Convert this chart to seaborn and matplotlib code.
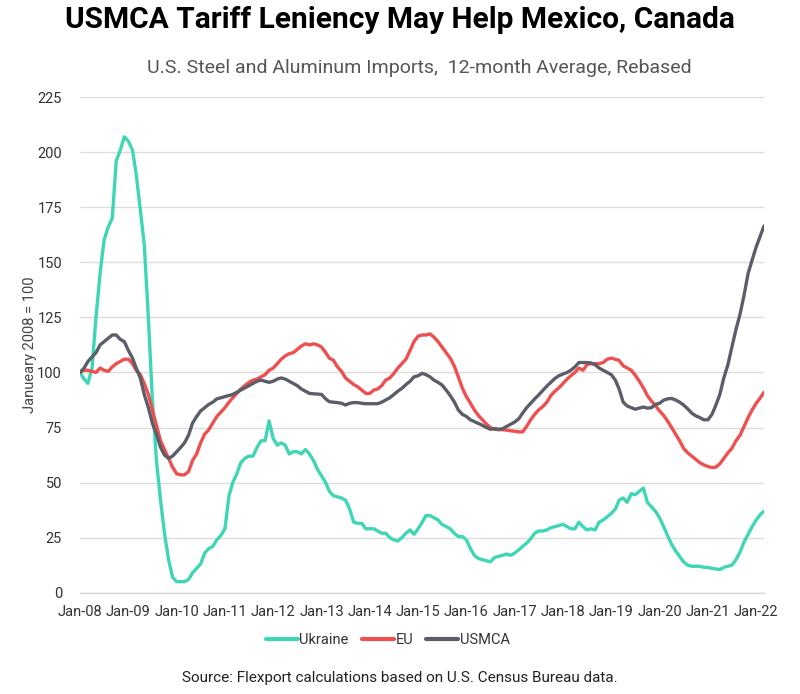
import matplotlib
matplotlib.use("Agg")
import matplotlib.pyplot as plt
import matplotlib.dates as mdates
import numpy as np
import pandas as pd
import seaborn as sns

# monthly values, Jan-08 .. Mar-22
ukraine = [
    100, 97, 95, 102, 125, 145, 160, 166, 170, 196, 201, 207,      # 2008
    205, 201, 190, 174, 158, 125, 88, 60, 42, 27, 15, 7,           # 2009
    5, 5, 5, 6, 9, 11, 13, 18, 20, 21, 24, 26,                     # 2010
    29, 44, 50, 54, 59, 61, 62, 62, 66, 69, 69, 78,                # 2011
    70, 67, 68, 67, 63, 64, 64, 63, 65, 63, 60, 56,                # 2012
    53, 50, 46, 44, 43.5, 43, 42, 38, 32, 31.5, 31.5, 29,          # 2013
    29, 29, 28, 27, 27, 25, 24, 23.5, 25, 27, 28.5, 26.5,          # 2014
    29, 32, 35, 35, 34, 33, 31, 30, 29, 27, 25.5, 25.5,            # 2015
    24, 20, 17, 15.5, 15, 14.5, 14, 16, 16.5, 17, 17.5, 17,        # 2016
    18, 19.5, 21, 22.5, 24.5, 27, 28, 28, 28.5, 29.5, 30, 30.5,    # 2017
    31, 30, 29, 29, 32, 30, 28.5, 29, 28.5, 32, 33, 34.5,          # 2018
    36, 38, 42, 43, 41, 45, 44.5, 46, 47.5, 41, 39, 37,            # 2019
    34, 30, 26, 22, 19, 16.5, 14, 12.5, 12, 12, 12, 11.5,          # 2020
    11.5, 11, 10.8, 10.5, 11.5, 12, 12.5, 15, 18.5, 23, 26.5, 30,  # 2021
    33, 35.5, 37,                                                  # 2022
]
eu = [
    100, 101, 101, 100.5, 100, 102, 101, 100.5, 102.5, 104, 105, 106,
    106, 104, 101, 99, 95, 90, 83, 76, 69, 65, 61, 57,
    54, 53.5, 53.5, 55, 60, 63, 68, 72, 74, 77, 80, 82,
    84, 86.5, 88.5, 90.5, 92.5, 94, 95.5, 96.5, 97, 98, 99, 101,
    102, 104, 106, 107.5, 108.5, 109, 110.5, 112, 113, 112.5, 113, 112.5,
    111.5, 109, 106.5, 105.5, 102.5, 100.5, 97.5, 96, 94.5, 93.5, 92, 90.5,
    90.5, 92, 92.5, 94, 96.5, 97.5, 99.5, 102, 104, 106, 110, 114,
    116.5, 117, 117, 117.5, 116, 114, 111.5, 109, 106.5, 103, 98, 93,
    89, 86, 83, 80.5, 78.5, 76.5, 75, 74.2, 74, 74, 73.8, 73.5,
    73.3, 73, 73, 75.5, 78.5, 81, 83, 84.5, 86.5, 89.5, 91.5, 93,
    95, 97, 98.5, 100, 102, 101, 103.5, 104, 104, 104, 104.5, 106,
    106.5, 106, 105.5, 103, 102, 101, 98.8, 96, 93, 89.5, 87, 85,
    82.5, 80.5, 78, 75, 72, 69, 65.5, 63.5, 62, 60.5, 59, 58,
    57.3, 56.8, 57, 58.5, 61, 63.5, 65.5, 69, 71.5, 75.5, 79.5, 83,
    86, 88.5, 91,
]
usmca = [
    100, 102, 105, 107, 109, 112.5, 114, 115.5, 117, 117, 115, 114,
    110, 106.5, 102, 97.5, 90, 84, 77, 72, 66, 62.5, 61, 62,
    64, 66, 68, 71.5, 77, 80, 82.5, 84, 85.5, 86.5, 88, 88.5,
    89, 89.5, 90, 91, 92, 93, 94, 95, 96, 96.5, 96, 95.5,
    96, 97, 97.5, 97, 96, 95, 94, 92.5, 91.5, 90.5, 90.3, 90.2,
    90, 88, 86.7, 86.5, 86.3, 86, 85.2, 86, 86.3, 86.3, 86, 85.8,
    85.8, 85.8, 85.8, 86.5, 87.5, 88.5, 90, 91.5, 92.8, 94.5, 96, 98,
    98.5, 99.6, 99, 98, 96.5, 95.5, 94.3, 92, 89.5, 86.7, 83, 81,
    80, 78.5, 77.7, 76.8, 76, 75, 74.2, 74.5, 74.2, 74.4, 75.5, 76.5,
    77.5, 79, 81.5, 84, 86, 88, 89.8, 91.8, 93.8, 95.5, 97.3, 98.5,
    99.3, 100, 101, 102.5, 104.5, 104.5, 104.5, 104.3, 103.5, 102, 101, 100,
    99, 96.5, 92.5, 86.5, 84.8, 84, 83.3, 83.8, 84.3, 83.8, 84, 85.5,
    86, 87.4, 88, 88.2, 87.5, 86.5, 85.2, 83.5, 81.5, 80.3, 79.5, 78.5,
    78.5, 81, 85, 90, 97.5, 103.5, 111.5, 119.5, 126.5, 135, 145, 151,
    157, 162, 166.5,
]
series_names = ["Ukraine", "EU", "USMCA"]
colors = ["#3fd6b6", "#ee4f4f", "#5b5e68"]

dates = pd.date_range("2008-01-01", periods=len(usmca), freq="MS")
df = pd.concat(
    [
        pd.DataFrame({"date": dates, "value": vals, "series": name})
        for name, vals in zip(series_names, [ukraine, eu, usmca])
    ]
)

sns.set_style("white")
plt.rcParams["font.family"] = ["Roboto", "DejaVu Sans"]

fig = plt.figure(figsize=(8, 6.94), dpi=100)
ax = fig.add_axes([0.1, 0.146, 0.855, 0.714])

sns.lineplot(
    data=df,
    x="date",
    y="value",
    hue="series",
    hue_order=series_names,
    palette=colors,
    linewidth=2.4,
    ax=ax,
)

ax.set_xlim(dates[0], dates[-1])
ax.set_ylim(0, 225)
ax.set_yticks(np.arange(0, 226, 25))
ax.yaxis.grid(True, color="#dcdcdc", linewidth=1)
ax.xaxis.grid(False)
ax.set_axisbelow(True)

ax.xaxis.set_major_locator(mdates.YearLocator())
ax.xaxis.set_major_formatter(mdates.DateFormatter("%b-%y"))

for s in ["top", "right", "left"]:
    ax.spines[s].set_visible(False)
ax.spines["bottom"].set_color("#d6d6d6")
ax.spines["bottom"].set_linewidth(1)

ax.tick_params(axis="x", colors="#d6d6d6", length=5, width=1, pad=4,
               labelcolor="#333333", labelsize=10.5)
ax.tick_params(axis="y", length=0, pad=13, labelcolor="#333333", labelsize=10.5)

ax.set_xlabel("")
ax.set_ylabel("Janueary 2008 = 100", fontsize=10.5, color="#444444", labelpad=0)

leg = ax.legend(
    loc="upper center",
    bbox_to_anchor=(0.45, -0.055),
    ncol=3,
    frameon=False,
    fontsize=10.5,
    handlelength=2.2,
    handletextpad=0.1,
    columnspacing=0.9,
)
for line in leg.get_lines():
    line.set_linewidth(3)
for t in leg.get_texts():
    t.set_color("#333333")

fig.text(0.5, 0.971, "USMCA Tariff Leniency May Help Mexico, Canada",
         ha="center", va="center", fontsize=21.5, fontweight="bold", color="#000000")
fig.text(0.524, 0.902, "U.S. Steel and Aluminum Imports,  12-month Average, Rebased",
         ha="center", va="center", fontsize=14, color="#555555")
fig.text(0.5, 0.023, "Source: Flexport calculations based on U.S. Census Bureau data.",
         ha="center", va="center", fontsize=11, color="#222222")

fig.savefig("out.png", dpi=100)
